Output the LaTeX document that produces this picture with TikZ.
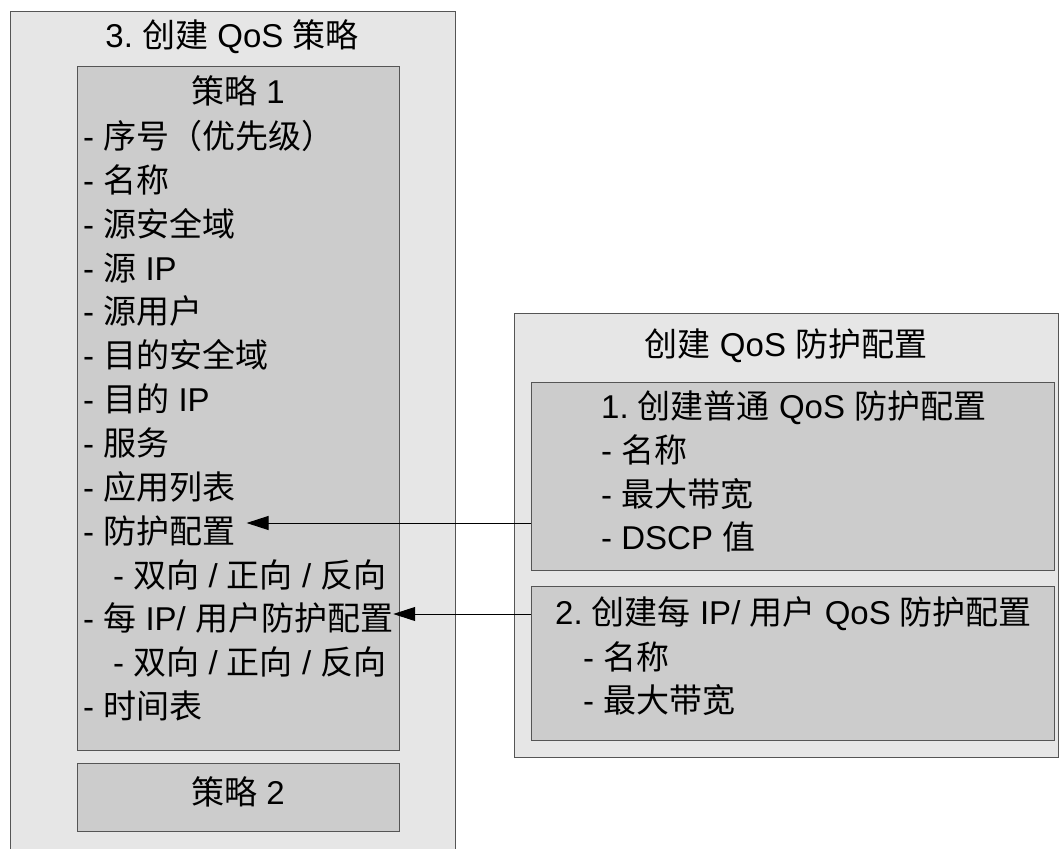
\documentclass[tikz,border=0pt]{standalone}
\usepackage{fontspec}
\setmainfont{Noto Sans CJK SC}
\newfontfamily\latf{Liberation Sans}
\newcommand\ltn[1]{{\latf#1}}
\usetikzlibrary{arrows.meta}
\definecolor{outerfill}{RGB}{230,230,230}
\definecolor{innerfill}{RGB}{204,204,204}
\definecolor{edge}{RGB}{85,85,85}
\begin{document}
\begin{tikzpicture}[x=1pt,y=-1pt,
  box/.style={draw=edge, line width=1.2pt, anchor=north west, inner sep=0pt},
  outerbox/.style={box, fill=outerfill},
  innerbox/.style={box, fill=innerfill},
  txt/.style={anchor=base west, inner sep=0pt, font=\fontsize{33}{40}\selectfont},
  ctxt/.style={anchor=base, inner sep=0pt, font=\fontsize{33}{40}\selectfont},
  conn/.style={draw=black, line width=1pt, -{Triangle[length=22pt,width=14pt]}}]
\useasboundingbox (0,0) rectangle (1059,848);
% boxes
\node[outerbox, minimum width=445pt, minimum height=850pt] (polset) at (10,11) {};
\node[innerbox, minimum width=322pt, minimum height=684pt] (pol1) at (77,66) {};
\node[innerbox, minimum width=322pt, minimum height=68pt] (pol2) at (77,763) {};
\node[outerbox, minimum width=544pt, minimum height=444pt] (prof) at (514,313) {};
\node[innerbox, minimum width=523pt, minimum height=188pt] (prof1) at (531,382) {};
\node[innerbox, minimum width=523pt, minimum height=154pt] (prof2) at (531,586) {};
% left texts
\node[ctxt] (t3) at (232,48) {\ltn{3.\ }创建\ltn{\ QoS\ }策略};
\node[ctxt] (p1t) at (238,104) {策略\ltn{\ 1}};
\node[ctxt] (p2t) at (238,804) {策略\ltn{\ 2}};
\node[txt] (l1) at (83,148) {\ltn{-\ }序号（优先级）};
\node[txt] (l2) at (83,192) {\ltn{-\ }名称};
\node[txt] (l3) at (83,236) {\ltn{-\ }源安全域};
\node[txt] (l4) at (83,280) {\ltn{-\ }源\ltn{\ IP}};
\node[txt] (l5) at (83,323) {\ltn{-\ }源用户};
\node[txt] (l6) at (83,367) {\ltn{-\ }目的安全域};
\node[txt] (l7) at (83,411) {\ltn{-\ }目的\ltn{\ IP}};
\node[txt] (l8) at (83,455) {\ltn{-\ }服务};
\node[txt] (l9) at (83,499) {\ltn{-\ }应用列表};
\node[txt] (l10) at (83,543) {\ltn{-\ }防护配置};
\node[txt] (l11) at (113,587) {\ltn{-\ }双向\ltn{\ /\ }正向\ltn{\ /\ }反向};
\node[txt] (l12) at (83,630) {\ltn{-\ }每\ltn{\ IP/\ }用户防护配置};
\node[txt] (l13) at (113,674) {\ltn{-\ }双向\ltn{\ /\ }正向\ltn{\ /\ }反向};
\node[txt] (l14) at (83,718) {\ltn{-\ }时间表};
% right texts
\node[ctxt] (rt) at (786,356) {创建\ltn{\ QoS\ }防护配置};
\node[txt] (r1) at (601,418) {\ltn{1.\ }创建普通\ltn{\ QoS\ }防护配置};
\node[txt] (r2) at (601,462) {\ltn{-\ }名称};
\node[txt] (r3) at (601,506) {\ltn{-\ }最大带宽};
\node[txt] (r4) at (601,549) {\ltn{-\ DSCP\ }值};
\node[txt] (s1) at (555,624) {\ltn{2.\ }创建每\ltn{\ IP/\ }用户\ltn{\ QoS\ }防护配置};
\node[txt] (s2) at (583,669) {\ltn{-\ }名称};
\node[txt] (s3) at (583,712) {\ltn{-\ }最大带宽};
% connectors
\draw[conn, shorten >=11pt] (prof1.west |- 0,523) -- (l10.east |- 0,523);
\draw[conn] (prof2.west |- 0,614) -- (l12.east |- 0,614);
\end{tikzpicture}
\end{document}
